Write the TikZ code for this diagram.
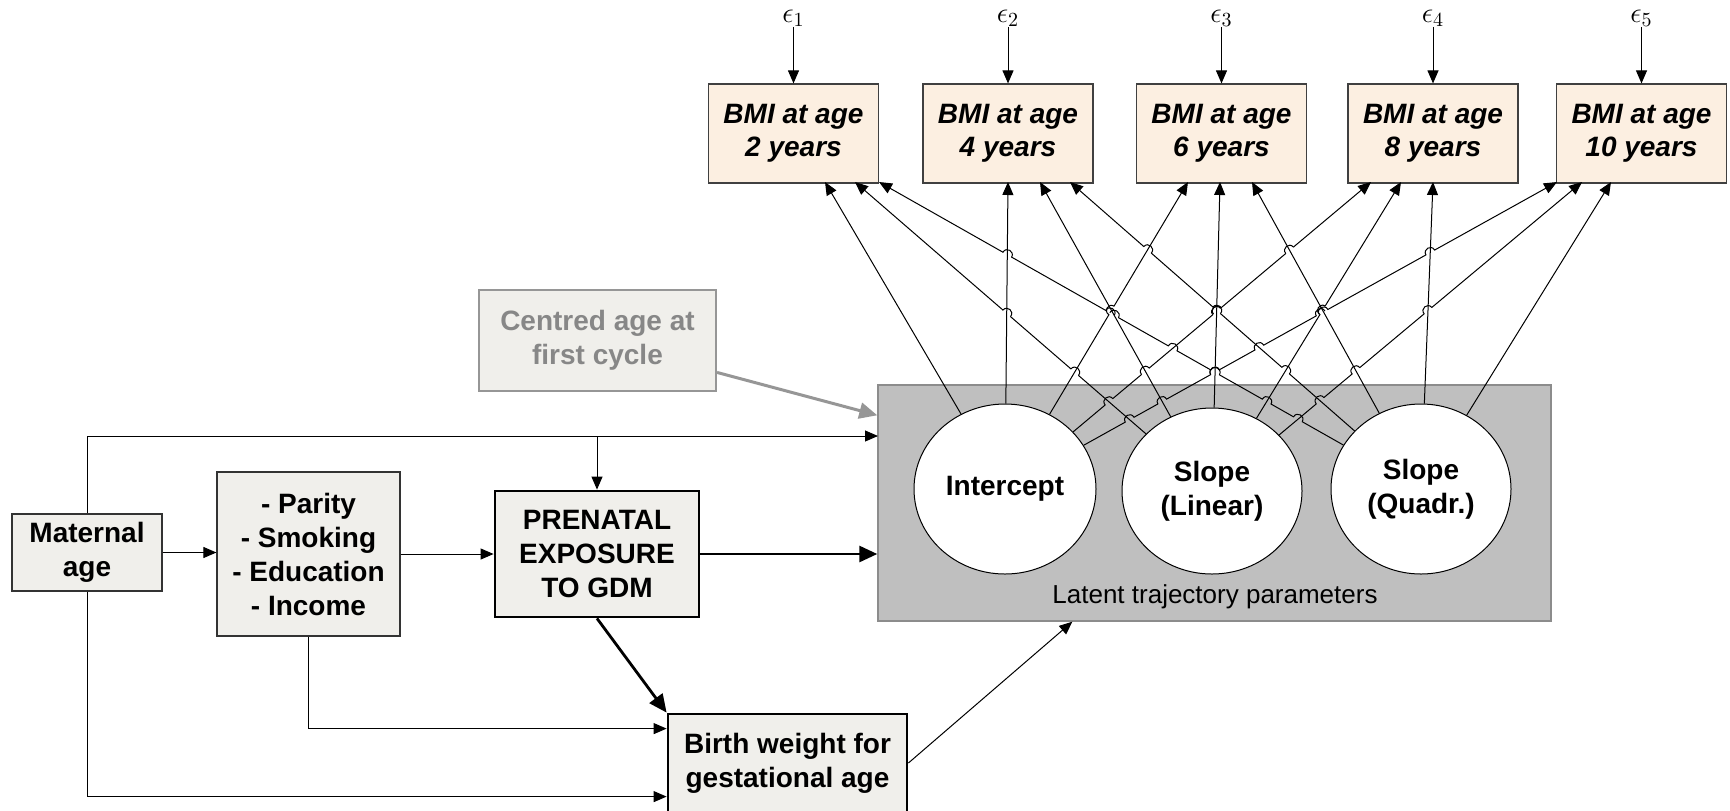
\documentclass[tikz,border=0pt]{standalone}
\usepackage{fontspec}
\setmainfont{Liberation Sans}
\usetikzlibrary{shapes.geometric,arrows.meta,calc}
\definecolor{peach}{RGB}{252,239,225}
\definecolor{boxgray}{RGB}{240,239,235}
\definecolor{latgray}{RGB}{191,191,191}
\definecolor{latedge}{RGB}{140,140,140}
\definecolor{cgray}{RGB}{135,135,135}
\definecolor{cedge}{RGB}{150,150,150}
\def\jr{5}
\def\jc{6.67}
\def\cxI{1005}\def\cyI{489}\def\rxI{91}\def\ryI{85}
\def\cxL{1212}\def\cyL{491}\def\rxL{90}\def\ryL{83}
\def\cxQ{1421}\def\cyQ{489}\def\rxQ{90}\def\ryQ{85}
\newcommand\defln[3]{%
  \coordinate (e#1#2) at (#3,182);
  \expandafter\xdef\csname ex#1#2\endcsname{#3}%
  \edef\tcx{\csname cx#1\endcsname}\edef\tcy{\csname cy#1\endcsname}%
  \pgfmathsetmacro\tmpH{abs(#3-\tcx)/(\tcy-182)}%
  \expandafter\xdef\csname h#1#2\endcsname{\tmpH}%
  \pgfmathsetmacro\tmpA{atan2(182-\tcy,#3-\tcx)}%
  \expandafter\xdef\csname a#1#2\endcsname{\tmpA}%
  \expandafter\gdef\csname J#1#2\endcsname{}%
}
\newcommand\clipjump[1]{\clip (-20,-20) rectangle (1750,830) (#1) circle[radius=\jr];}
\newcommand\drawjump[1]{%
  \pgfmathsetmacro\na{cos(\curang)>0 ? \curang-90 : \curang+90}%
  \pgfmathsetmacro\aS{\curang+180}%
  \draw[line width=0.5pt] ($(#1)+(\aS:\jr)$) .. controls +(\na:\jc) and +(\na:\jc) .. ($(#1)+(\curang:\jr)$);%
}
\let\jump\relax
\begin{document}
\begin{tikzpicture}[x=0.5pt,y=-0.5pt,
  every node/.style={font=\bfseries\fontsize{14}{17}\selectfont, align=center, inner sep=0pt},
  bmi/.style={draw=black!75, line width=0.6pt, fill=peach, minimum width=85pt, minimum height=49.5pt,
    font=\bfseries\itshape\fontsize{14}{16.5}\selectfont},
  gbox/.style={draw=black!80, line width=0.6pt, fill=boxgray},
  tbox/.style={draw=black, line width=1.4pt, fill=boxgray},
  cbox/.style={draw=cedge, line width=1pt, fill=boxgray, text=cgray},
  latrect/.style={draw=latedge, line width=0.7pt, fill=latgray},
  lat/.style={ellipse, draw=black, fill=white, line width=0.5pt},
  epsl/.style={font=\fontsize{14}{14}\selectfont},
  arr/.style={-{Triangle[length=6.5pt,width=5.5pt]}, line width=0.5pt},
  tarr/.style={-{Triangle[length=9pt,width=8pt]}, line width=1.4pt},
  garr/.style={-{Triangle[length=9pt,width=8pt]}, line width=1.5pt, draw=cedge, fill=cedge},
]
\useasboundingbox (0,0) rectangle (1730,810);

% latent block
\node[latrect, minimum width=336.5pt, minimum height=118pt] (lat) at (1214.5,503) {};
\node[lat, minimum width=91pt, minimum height=85pt] (I) at (1005,489) {Intercept};
\node[lat, minimum width=90pt, minimum height=83pt] (L) at (1212,491) {Slope\\(Linear)};
\node[lat, minimum width=90pt, minimum height=85pt] (Q) at (1421,489) {Slope\\(Quadr.)};
\node[font=\fontsize{13}{15}\selectfont] (latlab) at (1215,597) {Latent trajectory parameters};

% BMI boxes and errors
\foreach \k/\x/\lab in {1/793.5/2, 2/1008/4, 3/1221.5/6, 4/1433/8, 5/1641.5/10} {
  \node[bmi] (b\k) at (\x,133.5) {BMI at age\\\lab{} years};
  \node[epsl] (eps\k) at (\x,18) {$\epsilon_{\k}$};
  \draw[arr] (eps\k) -- (b\k);
}

% left boxes
\node[gbox, minimum width=75pt, minimum height=38.5pt] (ma) at (87,552.5) {Maternal\\age};
\node[gbox, minimum width=91.5pt, minimum height=82pt] (par) at (308.5,554) {- Parity\\- Smoking\\- Education\\- Income};
\node[tbox, minimum width=102pt, minimum height=63pt] (pren) at (597,554) {PRENATAL\\EXPOSURE\\TO GDM};
\node[tbox, minimum width=119.5pt, minimum height=49pt] (bw) at (787.5,763) {Birth weight for\\gestational age};
\node[cbox, minimum width=118.5pt, minimum height=50.5pt] (cage) at (597.5,340.5) {Centred age at\\first cycle};

% left connectors
\coordinate (latA) at (878,436);
\coordinate (brA) at (597,436);
\draw[arr] (ma.north) |- (latA);
\draw[arr] (brA) -- (pren.north);
\draw[arr] (ma.east) -- (ma.east -| par.west);
\draw[arr] (par.east) -- (par.east -| pren.west);
\draw[tarr] (pren.east) -- (pren.east -| lat.west);
\draw[tarr] (pren.south) -- (bw.north west);
\draw[arr] (par.south) |- ($(bw.north west)+(0,16)$);
\draw[arr] (ma.south) |- ($(bw.north west)+(0,84)$);
\draw[arr] (bw.east) -- ($(lat.south west)+(195,0)$);
\draw[garr] (cage) -- ($(lat.north west)+(0,31)$);

% loading lines
\defln{I}{1}{825}\defln{I}{2}{1008}\defln{I}{3}{1188}\defln{I}{4}{1371}\defln{I}{5}{1557}
\defln{L}{1}{855}\defln{L}{2}{1040}\defln{L}{3}{1220}\defln{L}{4}{1401}\defln{L}{5}{1582}
\defln{Q}{1}{879}\defln{Q}{2}{1070}\defln{Q}{3}{1252}\defln{Q}{4}{1433}\defln{Q}{5}{1611}

% crossings (computed analytically)
\foreach \X/\Y in {I/L,I/Q,L/Q}{
  \foreach \i in {1,...,5}{
    \foreach \j in {1,...,5}{
      \edef\cXx{\csname cx\X\endcsname}\edef\cXy{\csname cy\X\endcsname}%
      \edef\cYx{\csname cx\Y\endcsname}\edef\cYy{\csname cy\Y\endcsname}%
      \edef\eXx{\csname ex\X\i\endcsname}\edef\eYx{\csname ex\Y\j\endcsname}%
      \edef\rXx{\csname rx\X\endcsname}\edef\rXy{\csname ry\X\endcsname}%
      \edef\rYx{\csname rx\Y\endcsname}\edef\rYy{\csname ry\Y\endcsname}%
      \pgfmathsetmacro\dAx{(\eXx-\cXx)/100}%
      \pgfmathsetmacro\dAy{(182-\cXy)/100}%
      \pgfmathsetmacro\dBx{(\eYx-\cYx)/100}%
      \pgfmathsetmacro\dBy{(182-\cYy)/100}%
      \pgfmathsetmacro\wX{(\cYx-\cXx)/100}%
      \pgfmathsetmacro\wY{(\cYy-\cXy)/100}%
      \pgfmathsetmacro\den{\dAx*\dBy-\dAy*\dBx}%
      \pgfmathtruncatemacro\okA{abs(\den)>0.0001 ? 1 : 0}%
      \ifnum\okA=1
        \pgfmathsetmacro\sS{(\wX*\dBy-\wY*\dBx)/\den}%
        \pgfmathsetmacro\uU{(\wX*\dAy-\wY*\dAx)/\den}%
        \pgfmathsetmacro\sbA{1/sqrt((\dAx*100/\rXx)^2+(\dAy*100/\rXy)^2)}%
        \pgfmathsetmacro\sbB{1/sqrt((\dBx*100/\rYx)^2+(\dBy*100/\rYy)^2)}%
        \pgfmathtruncatemacro\okB{(\sS>\sbA) && (\sS<1) && (\uU>\sbB) && (\uU<1) ? 1 : 0}%
        \ifnum\okB=1
          \pgfmathsetmacro\pX{\cXx+\sS*\dAx*100}%
          \pgfmathsetmacro\pY{\cXy+\sS*\dAy*100}%
          \coordinate (x\X\i\Y\j) at (\pX,\pY);
          \ifdim\csname h\X\i\endcsname pt>\csname h\Y\j\endcsname pt
            \expandafter\xdef\csname J\X\i\endcsname{\csname J\X\i\endcsname\noexpand\jump{x\X\i\Y\j}}%
          \else
            \expandafter\xdef\csname J\Y\j\endcsname{\csname J\Y\j\endcsname\noexpand\jump{x\X\i\Y\j}}%
          \fi
        \fi
      \fi
    }
  }
}

% draw lines with jumps
\foreach \X in {I,L,Q}{
  \foreach \k in {1,...,5}{
    \begin{scope}[even odd rule]
      \let\jump\clipjump
      \csname J\X\k\endcsname
      \draw[arr] (\X) -- (e\X\k);
    \end{scope}
    \edef\curang{\csname a\X\k\endcsname}
    \let\jump\drawjump
    \csname J\X\k\endcsname
  }
}
\end{tikzpicture}
\end{document}
